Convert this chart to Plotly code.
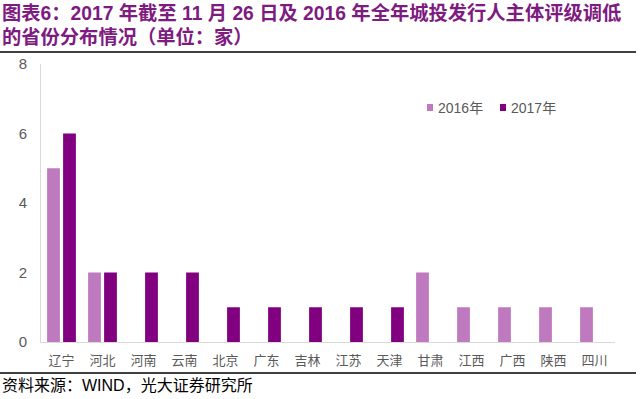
import plotly.graph_objects as go

categories = ["辽宁", "河北", "河南", "云南", "北京", "广东", "吉林", "江苏", "天津", "甘肃", "江西", "广西", "陕西", "四川"]
values_2016 = [5, 2, 0, 0, 0, 0, 0, 0, 0, 2, 1, 1, 1, 1]
values_2017 = [6, 2, 2, 2, 1, 1, 1, 1, 1, 0, 0, 0, 0, 0]
series_names = ["2016年", "2017年"]
series_colors = ["#BF7ABF", "#800080"]
y_ticks = [0, 2, 4, 6, 8]

title_line1 = "图表6：2017 年截至 11 月 26 日及 2016 年全年城投发行人主体评级调低"
title_line2 = "的省份分布情况（单位：家）"
source_text = "资料来源：WIND，光大证券研究所"

W, H = 640, 399
L, R, T, B = 41, 25, 64, 57
pw = W - L - R
ph = H - T - B


def px_x(x):
    return (x - L) / pw


def px_y(y):
    return (H - B - y) / ph


fig = go.Figure()
for name, vals, col in zip(series_names, [values_2016, values_2017], series_colors):
    fig.add_trace(go.Bar(x=categories, y=vals, name=name, showlegend=False,
                         marker=dict(color=col, line=dict(width=0))))

title_font = dict(family="Liberation Sans, Noto Sans CJK SC", size=19.3, color="#7E1B80")
legend_font = dict(family="Liberation Sans, Noto Sans CJK SC", size=14, color="#595959")

shapes = [
    dict(type="line", xref="paper", yref="paper", x0=px_x(0), x1=px_x(636),
         y0=px_y(52), y1=px_y(52), line=dict(color="black", width=1.5)),
    dict(type="line", xref="paper", yref="paper", x0=px_x(0), x1=px_x(636),
         y0=px_y(373), y1=px_y(373), line=dict(color="black", width=1.5)),
]
annotations = [
    dict(text="<b>" + title_line1 + "</b>", xref="paper", yref="paper", x=px_x(0), y=px_y(13),
         xanchor="left", yanchor="middle", showarrow=False, font=title_font),
    dict(text="<b>" + title_line2 + "</b>", xref="paper", yref="paper", x=px_x(0), y=px_y(37),
         xanchor="left", yanchor="middle", showarrow=False, font=title_font),
    dict(text=source_text, xref="paper", yref="paper", x=px_x(0), y=px_y(385),
         xanchor="left", yanchor="middle", showarrow=False,
         font=dict(family="Liberation Sans, Noto Sans CJK SC", size=16, color="black")),
]

# legend drawn manually (small square markers like the reference)
legend_x = [427, 500]
for name, col, lx in zip(series_names, series_colors, legend_x):
    shapes.append(dict(type="rect", xref="paper", yref="paper",
                       x0=px_x(lx), x1=px_x(lx + 6), y0=px_y(111), y1=px_y(104),
                       fillcolor=col, line=dict(width=0)))
    annotations.append(dict(text=name, xref="paper", yref="paper", x=px_x(lx + 9), y=px_y(107.5),
                            xanchor="left", yanchor="middle", showarrow=False, font=legend_font))

fig.update_layout(
    width=W, height=H,
    margin=dict(l=L, r=R, t=T, b=B, autoexpand=False),
    paper_bgcolor="white", plot_bgcolor="white",
    barmode="group", bargap=0.22, bargroupgap=0.2,
    showlegend=False,
    xaxis=dict(showline=True, linecolor="#D9D9D9", linewidth=1, ticks="", showgrid=False,
               ticklabelstandoff=6,
               tickfont=dict(family="Noto Sans CJK SC", size=13, color="#595959")),
    yaxis=dict(range=[0, 8], tickvals=y_ticks, showline=True, linecolor="#D9D9D9", linewidth=1,
               showgrid=False, zeroline=False, ticks="", ticklabelstandoff=10,
               tickfont=dict(family="Liberation Sans, Arial", size=15, color="#595959")),
    shapes=shapes,
    annotations=annotations,
)

fig.write_html("out.html", config={"displayModeBar": False},
               post_script="document.body.style.margin='0';")
